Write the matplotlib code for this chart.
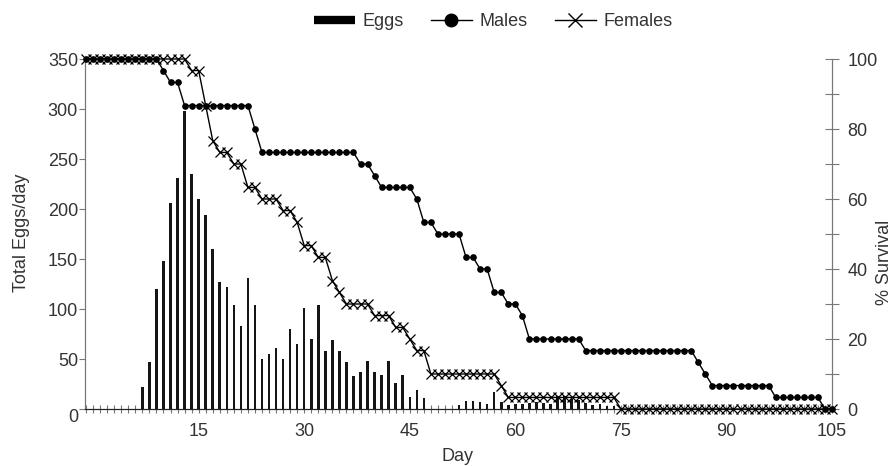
import numpy as np
import matplotlib.pyplot as plt
from matplotlib.lines import Line2D
from matplotlib.ticker import MultipleLocator

plt.rcParams['font.family'] = ['Liberation Sans', 'DejaVu Sans']

# eggs laid per day (days 0..75)
egg_days = np.arange(0, 76)
eggs = [0, 0, 0, 0, 0, 0, 0,
        22, 47, 120, 148, 206, 231, 298,
        235, 210, 194, 160, 127, 122, 104,
        83, 131, 104, 50, 55, 61, 50,
        80, 65, 101, 70, 104, 58, 69,
        58, 47, 33, 37, 48, 37, 34,
        48, 26, 34, 12, 19, 11, 0,
        0, 0, 0, 4, 8, 8, 7,
        5, 17, 7, 4, 5, 5, 6,
        7, 6, 5, 13, 13, 10, 9,
        6, 4, 5, 3, 3, 0]

# % survival, days -1..105
surv_days = np.arange(-1, 106)
males = [100, 100, 100, 100, 100, 100, 100, 100, 100, 100, 100,
         96.7, 93.3, 93.3,
         86.7, 86.7, 86.7, 86.7, 86.7, 86.7, 86.7, 86.7, 86.7, 86.7,
         80,
         73.3, 73.3, 73.3, 73.3, 73.3, 73.3, 73.3, 73.3, 73.3, 73.3, 73.3, 73.3, 73.3, 73.3,
         70, 70, 66.7,
         63.3, 63.3, 63.3, 63.3, 63.3,
         60, 53.3, 53.3,
         50, 50, 50, 50,
         43.3, 43.3, 40, 40, 33.3, 33.3, 30, 30, 26.7,
         20, 20, 20, 20, 20, 20, 20, 20,
         16.7, 16.7, 16.7, 16.7, 16.7, 16.7, 16.7, 16.7,
         16.7, 16.7, 16.7, 16.7, 16.7, 16.7, 16.7, 16.7,
         13.3, 10,
         6.7, 6.7, 6.7, 6.7, 6.7, 6.7, 6.7, 6.7, 6.7,
         3.3, 3.3, 3.3, 3.3, 3.3, 3.3, 3.3,
         0, 0]
females = [100, 100, 100, 100, 100, 100, 100, 100, 100, 100, 100, 100, 100, 100, 100,
           96.7, 96.7, 86.7, 76.7, 73.3, 73.3, 70, 70, 63.3, 63.3,
           60, 60, 60, 56.7, 56.7, 53.3, 46.7, 46.7, 43.3, 43.3,
           36.7, 33.3, 30, 30, 30, 30, 26.7, 26.7, 26.7,
           23.3, 23.3, 20, 16.7, 16.7,
           10, 10, 10, 10, 10, 10, 10, 10, 10, 10,
           6.7,
           3.3, 3.3, 3.3, 3.3, 3.3, 3.3, 3.3, 3.3,
           3.3, 3.3, 3.3, 3.3, 3.3, 3.3, 3.3, 3.3,
           0, 0, 0, 0, 0, 0, 0, 0, 0, 0, 0, 0, 0, 0, 0, 0,
           0, 0, 0, 0, 0, 0, 0, 0, 0, 0, 0, 0, 0, 0, 0]

txt = '#333333'
spine_c = '#777777'
fs = 13

fig = plt.figure(figsize=(8.96, 4.66), dpi=100)
ax = fig.add_axes([85 / 896, 57 / 466, 747 / 896, 350 / 466])

ax.bar(egg_days, eggs, width=0.36, color='#151515', zorder=2)
ax.set_xlim(-1.15, 105)
ax.set_ylim(0, 350)

ax2 = ax.twinx()
ax2.plot(surv_days, males, '-o', color='black', lw=1.0, ms=3.8, clip_on=False, zorder=3)
ax2.plot(surv_days, females, '-x', color='black', lw=1.0, ms=7, mew=0.9, clip_on=False, zorder=3)
ax2.set_ylim(0, 100)

for a in (ax, ax2):
    a.spines['top'].set_visible(False)
    a.spines['left'].set_color(spine_c)
    a.spines['right'].set_color(spine_c)
    a.spines['bottom'].set_color('#222222')

ax.set_xticks(range(15, 106, 15))
ax.xaxis.set_minor_locator(MultipleLocator(1))
ax.tick_params(axis='x', which='both', direction='inout', length=6, width=0.8,
               color=spine_c, labelsize=fs, labelcolor=txt, pad=7)
ax.set_yticks(range(0, 351, 50))
ax.tick_params(axis='y', direction='out', length=4, width=0.8, color=spine_c,
               labelsize=fs, labelcolor=txt, pad=1)
ax.get_yticklabels()[0].set_va('top')

ax2.set_yticks(range(0, 101, 20))
ax2.yaxis.set_minor_locator(MultipleLocator(10))
ax2.tick_params(axis='y', which='both', direction='inout', length=10, width=0.8,
                color=spine_c, labelsize=fs, labelcolor=txt, pad=6)

fig.text(21 / 896, 1 - 233 / 466, 'Total Eggs/day', rotation=90, ha='center', va='center',
         fontsize=fs, color=txt)
fig.text(884 / 896, 1 - 305 / 466, '% Survival', rotation=90, ha='center', va='bottom',
         fontsize=fs, color=txt)
fig.text(457 / 896, 1 - 448 / 466, 'Day', ha='center', va='top', fontsize=fs, color=txt)

handles = [Line2D([], [], color='black', lw=6, solid_capstyle='butt'),
           Line2D([], [], color='black', lw=1, marker='o', ms=9),
           Line2D([], [], color='black', lw=1, marker='x', ms=10, mew=1)]
fig.legend(handles, ['Eggs', 'Males', 'Females'], loc='center',
           bbox_to_anchor=(493 / 896, 1 - 22 / 466), ncol=3, frameon=False,
           fontsize=fs, handlelength=2.3, columnspacing=1.5, handletextpad=0.4,
           labelcolor=txt)

fig.savefig('out.png', dpi=100)
